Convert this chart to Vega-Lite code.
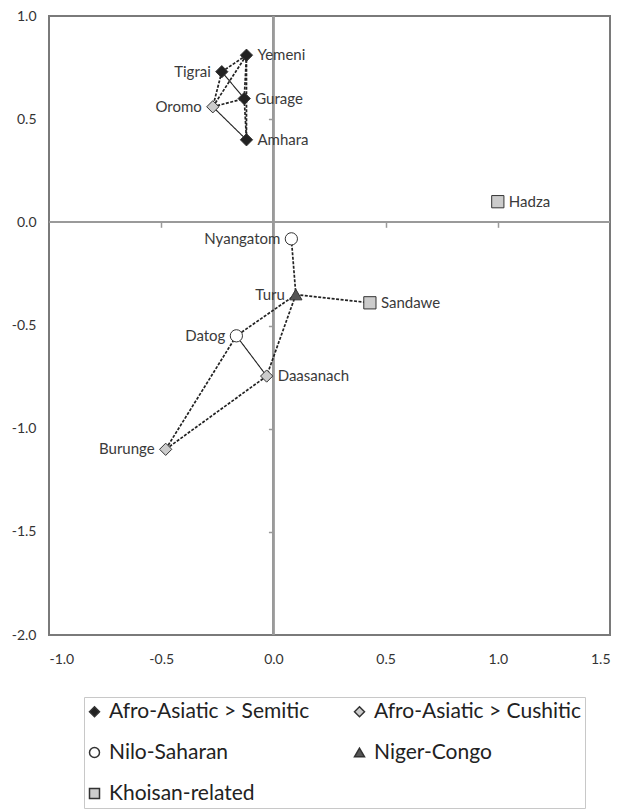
{
  "$schema": "https://vega.github.io/schema/vega-lite/v6.json",
  "width": 561,
  "height": 619,
  "autosize": {"type": "none"},
  "padding": {"left": 49, "top": 16, "right": 12, "bottom": 174},
  "config": {
    "font": "Lato",
    "view": {"stroke": "#7a7a7a", "strokeWidth": 2},
    "axis": {"labelFont": "Lato", "labelColor": "#333", "labelFontSize": 14, "grid": false}
  },
  "datasets": {
    "points": [
      {"name": "Yemeni", "x": -0.12, "y": 0.81, "group": "Afro-Asiatic > Semitic"},
      {"name": "Tigrai", "x": -0.23, "y": 0.73, "group": "Afro-Asiatic > Semitic"},
      {"name": "Gurage", "x": -0.13, "y": 0.6, "group": "Afro-Asiatic > Semitic"},
      {"name": "Amhara", "x": -0.12, "y": 0.4, "group": "Afro-Asiatic > Semitic"},
      {"name": "Oromo", "x": -0.27, "y": 0.56, "group": "Afro-Asiatic > Cushitic"},
      {"name": "Hadza", "x": 1.0, "y": 0.1, "group": "Khoisan-related"},
      {"name": "Nyangatom", "x": 0.08, "y": -0.08, "group": "Nilo-Saharan"},
      {"name": "Turu", "x": 0.1, "y": -0.35, "group": "Niger-Congo"},
      {"name": "Sandawe", "x": 0.43, "y": -0.39, "group": "Khoisan-related"},
      {"name": "Datog", "x": -0.165, "y": -0.55, "group": "Nilo-Saharan"},
      {"name": "Daasanach", "x": -0.03, "y": -0.745, "group": "Afro-Asiatic > Cushitic"},
      {"name": "Burunge", "x": -0.48, "y": -1.1, "group": "Afro-Asiatic > Cushitic"}
    ],
    "edges": [
      {"from": "Yemeni", "to": "Tigrai", "kind": "primary"},
      {"from": "Yemeni", "to": "Oromo", "kind": "primary"},
      {"from": "Yemeni", "to": "Gurage", "kind": "primary"},
      {"from": "Yemeni", "to": "Amhara", "kind": "primary"},
      {"from": "Tigrai", "to": "Oromo", "kind": "primary"},
      {"from": "Tigrai", "to": "Gurage", "kind": "secondary"},
      {"from": "Oromo", "to": "Gurage", "kind": "primary"},
      {"from": "Oromo", "to": "Amhara", "kind": "secondary"},
      {"from": "Gurage", "to": "Amhara", "kind": "primary"},
      {"from": "Nyangatom", "to": "Turu", "kind": "primary"},
      {"from": "Turu", "to": "Sandawe", "kind": "primary"},
      {"from": "Turu", "to": "Datog", "kind": "primary"},
      {"from": "Turu", "to": "Daasanach", "kind": "primary"},
      {"from": "Datog", "to": "Daasanach", "kind": "secondary"},
      {"from": "Datog", "to": "Burunge", "kind": "primary"},
      {"from": "Daasanach", "to": "Burunge", "kind": "primary"}
    ]
  },
  "data": {"name": "points"},
  "resolve": {"axis": {"x": "independent", "y": "independent"}},
  "layer": [
    {
      "mark": {"type": "rule", "color": "#9a9a9a", "strokeWidth": 1.5},
      "encoding": {
        "x": {
          "datum": 0, "type": "quantitative",
          "scale": {"domain": [-1, 1.5], "nice": false, "zero": false},
          "axis": {"orient": "bottom", "offset": -412.7, "domain": false, "labels": false, "ticks": true, "tickSize": 5, "tickColor": "#9a9a9a", "tickWidth": 1.5, "values": [-0.5, 0.5, 1], "title": null}
        }
      }
    },
    {
      "mark": {"type": "rule", "color": "#9a9a9a", "strokeWidth": 1.5},
      "encoding": {
        "y": {
          "datum": 0, "type": "quantitative",
          "scale": {"domain": [-2, 1], "nice": false, "zero": false},
          "axis": {"orient": "left", "offset": -224.4, "domain": false, "labels": false, "ticks": true, "tickSize": 5, "tickColor": "#9a9a9a", "tickWidth": 1.5, "values": [0.5, -0.5, -1, -1.5], "title": null}
        }
      }
    },
    {
      "data": {"name": "edges"},
      "transform": [
        {"lookup": "from", "from": {"data": {"name": "points"}, "key": "name", "fields": ["x", "y"]}, "as": ["x1", "y1"]},
        {"lookup": "to", "from": {"data": {"name": "points"}, "key": "name", "fields": ["x", "y"]}, "as": ["x2", "y2"]}
      ],
      "mark": {"type": "rule", "color": "#222"},
      "encoding": {
        "x": {"field": "x1", "type": "quantitative", "axis": null},
        "y": {"field": "y1", "type": "quantitative", "axis": null},
        "x2": {"field": "x2"},
        "y2": {"field": "y2"},
        "strokeDash": {"field": "kind", "type": "nominal", "legend": null, "scale": {"domain": ["primary", "secondary"], "range": [[3, 1.5], [1, 0]]}},
        "strokeWidth": {"field": "kind", "type": "nominal", "legend": null, "scale": {"domain": ["primary", "secondary"], "range": [1.7, 1.1]}}
      }
    },
    {
      "mark": {"type": "point", "filled": true, "stroke": "#333", "strokeWidth": 1, "size": 150, "opacity": 1},
      "encoding": {
        "x": {
          "field": "x", "type": "quantitative",
          "axis": {"orient": "bottom", "domain": false, "ticks": false, "values": [-1, -0.5, 0, 0.5, 1, 1.5], "labelPadding": 17, "labelExpr": "replace(format(datum.value, '.1f'), '\u2212', '-')", "title": null}
        },
        "y": {
          "field": "y", "type": "quantitative",
          "axis": {"orient": "left", "domain": false, "ticks": false, "values": [1, 0.5, 0, -0.5, -1, -1.5, -2], "labelPadding": 13, "labelExpr": "replace(format(datum.value, '.1f'), '\u2212', '-')", "title": null}
        },
        "shape": {
          "field": "group", "type": "nominal",
          "scale": {"domain": ["Afro-Asiatic > Semitic", "Afro-Asiatic > Cushitic", "Nilo-Saharan", "Niger-Congo", "Khoisan-related"], "range": ["diamond", "diamond", "circle", "triangle-up", "square"]},
          "legend": {"orient": "none", "legendX": 35, "legendY": 681, "direction": "horizontal", "columns": 2, "title": null, "labelFontSize": 21, "labelColor": "#222", "symbolSize": 100, "symbolOffset": -4, "labelOffset": 4, "columnPadding": 41, "rowPadding": 19, "padding": 4, "strokeColor": "#c8c8c8", "fillColor": "white", "labelLimit": 300,
            "encode": {"symbols": {"update": {"stroke": {"value": "#444"}, "strokeWidth": {"value": 1}}}}}
        },
        "fill": {
          "field": "group", "type": "nominal",
          "scale": {"domain": ["Afro-Asiatic > Semitic", "Afro-Asiatic > Cushitic", "Nilo-Saharan", "Niger-Congo", "Khoisan-related"], "range": ["#222222", "#cccccc", "#ffffff", "#555555", "#cccccc"]},
          "legend": {"orient": "none", "legendX": 35, "legendY": 681, "direction": "horizontal", "columns": 2, "title": null, "labelFontSize": 21, "labelColor": "#222", "symbolSize": 100, "symbolOffset": -4, "labelOffset": 4, "columnPadding": 41, "rowPadding": 19, "padding": 4, "strokeColor": "#c8c8c8", "fillColor": "white", "labelLimit": 300,
            "encode": {"symbols": {"update": {"stroke": {"value": "#444"}, "strokeWidth": {"value": 1}}}}}
        }
      }
    },
    {
      "transform": [{"filter": {"field": "name", "oneOf": ["Tigrai", "Oromo", "Nyangatom", "Turu", "Datog", "Burunge"]}}],
      "mark": {"type": "text", "align": "right", "baseline": "middle", "dx": -11, "fontSize": 15, "color": "#3a3a3a"},
      "encoding": {
        "x": {"field": "x", "type": "quantitative", "axis": null},
        "y": {"field": "y", "type": "quantitative", "axis": null},
        "text": {"field": "name"}
      }
    },
    {
      "transform": [{"filter": {"field": "name", "oneOf": ["Yemeni", "Gurage", "Amhara", "Hadza", "Sandawe", "Daasanach"]}}],
      "mark": {"type": "text", "align": "left", "baseline": "middle", "dx": 11, "fontSize": 15, "color": "#3a3a3a"},
      "encoding": {
        "x": {"field": "x", "type": "quantitative", "axis": null},
        "y": {"field": "y", "type": "quantitative", "axis": null},
        "text": {"field": "name"}
      }
    }
  ]
}
